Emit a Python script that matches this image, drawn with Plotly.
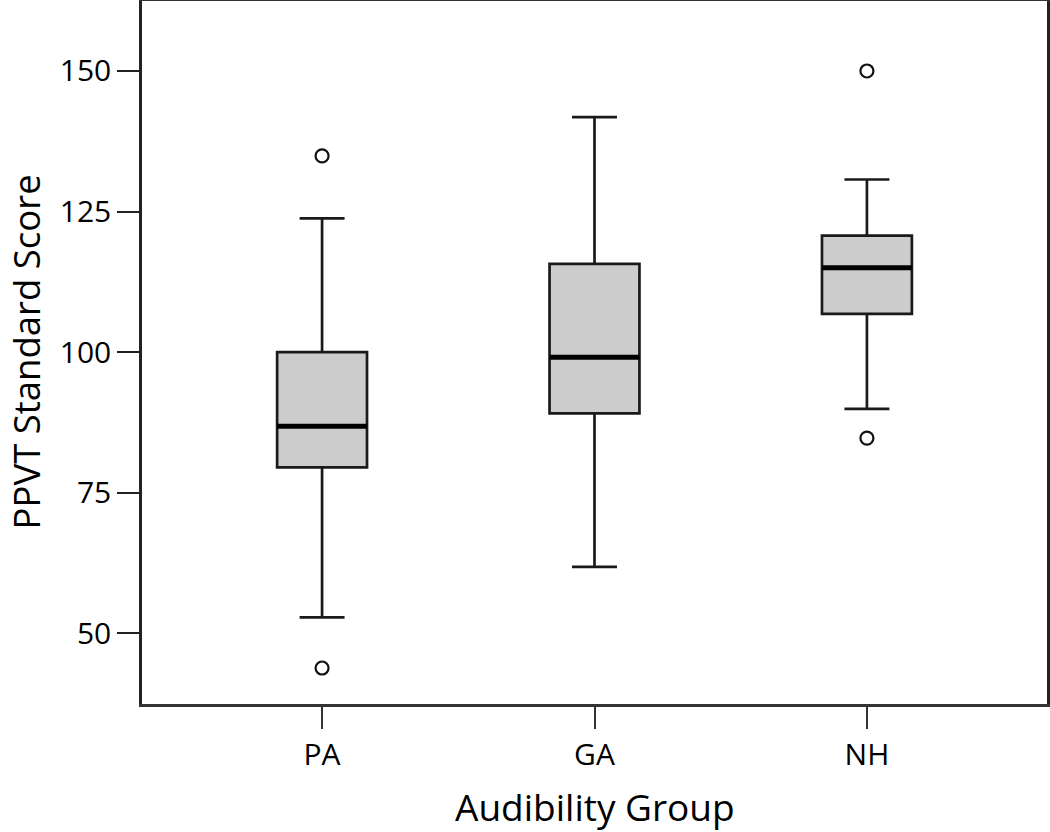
import plotly.graph_objects as go

groups = ["PA", "GA", "NH"]
lower_whisker = [52.8, 61.8, 89.9]
q1 = [79.5, 89.1, 106.8]
median = [86.8, 99.1, 115.0]
q3 = [100.0, 115.7, 120.7]
upper_whisker = [123.8, 141.8, 130.7]
outlier_group = [0, 0, 2, 2]
outlier_value = [134.9, 43.8, 150.0, 84.7]

positions = list(range(len(groups)))
box_width = 0.33
FONT = "Open Sans"

W, H = 1050, 832
ML, MR, MT, MB = 142, 3, 1, 128
PW, PH = W - ML - MR, H - MT - MB

fig = go.Figure()
fig.add_trace(go.Box(
    x=positions, q1=q1, median=median, q3=q3,
    lowerfence=lower_whisker, upperfence=upper_whisker,
    width=box_width, whiskerwidth=0.5,
    fillcolor="#CCCCCC", line=dict(color="#1a1a1a", width=2.7),
    boxpoints=False, showlegend=False, hoverinfo="skip",
))
for i, m in zip(positions, median):
    fig.add_trace(go.Scatter(
        x=[i - box_width / 2, i + box_width / 2], y=[m, m],
        mode="lines", line=dict(color="black", width=5),
        showlegend=False, hoverinfo="skip",
    ))
fig.add_trace(go.Scatter(
    x=outlier_group, y=outlier_value, mode="markers",
    marker=dict(symbol="circle-open", size=13, color="#111", line=dict(width=2.2)),
    showlegend=False, hoverinfo="skip",
))

fig.update_layout(
    width=W, height=H,
    margin=dict(l=ML, r=MR, t=MT, b=MB, autoexpand=False),
    paper_bgcolor="white", plot_bgcolor="white",
    font=dict(family=FONT, color="black"),
    annotations=[
        dict(text="PPVT Standard Score", xref="paper", yref="paper",
             x=(25 - ML) / PW, y=0.5, xanchor="center", yanchor="middle",
             textangle=-90, showarrow=False, font=dict(size=36.5, family=FONT)),
        dict(text="Audibility Group", xref="paper", yref="paper",
             x=0.5, y=-(806 - (MT + PH)) / PH, xanchor="center", yanchor="middle",
             showarrow=False, font=dict(size=37, family=FONT)),
    ],
)
fig.update_xaxes(
    range=[-0.661, 2.661], tickvals=positions, ticktext=groups,
    showgrid=False, zeroline=False, automargin=False,
    showline=True, linecolor="#333", linewidth=2.5, mirror=True,
    ticks="outside", ticklen=22, tickwidth=2, tickcolor="#333",
    tickfont=dict(size=30, family=FONT),
)
fig.update_yaxes(
    range=[37.4, 162.45], tickvals=[50, 75, 100, 125, 150],
    showgrid=False, zeroline=False, automargin=False,
    showline=True, linecolor="#222", linewidth=2.5, mirror=True,
    ticks="outside", ticklen=22, tickwidth=2, tickcolor="#222",
    tickfont=dict(size=30, family=FONT),
)

fig.write_html(
    "out.html",
    config={"displayModeBar": False},
    post_script="document.body.style.margin='0px';document.body.style.overflow='hidden';",
)
